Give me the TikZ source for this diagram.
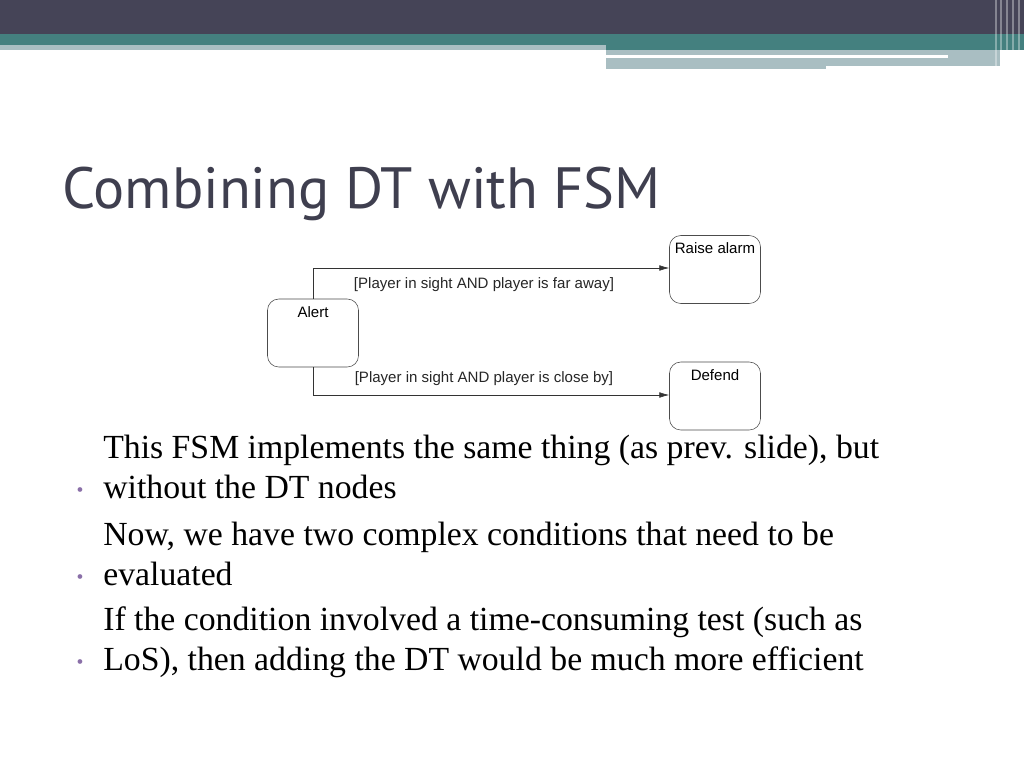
\documentclass[tikz,border=0pt]{standalone}
\usepackage{fontspec}
\setmainfont{Liberation Serif}
\newfontfamily\titlefont{PT Sans}
\newfontfamily\diagfont{Liberation Sans}
\usepackage{tikz}
\usetikzlibrary{positioning,arrows.meta}
\definecolor{barDark}{HTML}{454457}
\definecolor{barTeal}{HTML}{44807F}
\definecolor{barLight}{HTML}{A9BEC2}
\definecolor{titleGray}{HTML}{3F3F4F}
\definecolor{bulletPurple}{HTML}{8A6FA8}
\tikzstyle{statebox} = [draw=black!70, fill=white, rounded corners=8pt,
minimum width=91pt*0.711, minimum height=68pt*0.711]
\tikzstyle{statelbl} = [font=\diagfont\fontsize{10.7}{12}\selectfont]
\tikzstyle{bulletline} = [anchor=base west, inner sep=0pt,
font=\fontsize{24}{28.4}\selectfont, align=left]

\begin{document}
\begin{tikzpicture}[x=0.025cm, y=-0.025cm, >={Latex[length=7pt,width=4pt]}]
		\useasboundingbox (0,0) rectangle (1024,768);
		\fill[white] (0,0) rectangle (1024,768);
		% header bars
		\fill[barDark] (0,0) rectangle (1024,34);
		\fill[barTeal] (0,34) rectangle (1024,50);
		\fill[barLight] (0,45) rectangle (606,50);
		\fill[barLight] (606,50) rectangle (1000,69);
		\fill[white] (606,55) rectangle (948,58);
		\fill[white] (826,66) rectangle (1000,69);
		\foreach \xx in {995,1000,1006,1012,1018} {
			\fill[white, opacity=0.35] (\xx,0) rectangle ++(2,69);
		}
		% title
		\node[anchor=base west, inner sep=0pt, text=titleGray,
		font=\titlefont\fontsize{41.4}{46}\selectfont] (title) at (62,208) {Combining DT with FSM};
		% states
		\node[statebox] (alert) at (313,333) {};
		\node[statelbl, below=2pt of alert.north] (alertlbl) {Alert};
		\node[statebox] (raise) at (715,269.5) {};
		\node[statelbl, below=2pt of raise.north] (raiselbl) {Raise alarm};
		\node[statebox] (defend) at (715,396) {};
		\node[statelbl, below=2pt of defend.north] (defendlbl) {Defend};
		% transitions
		\draw[->, black!80] (alert.north) |- (raise.west |- 0,268)
			node[statelbl, pos=0.74, below=3pt, text=black!85] {[Player in sight AND player is far away]};
		\draw[->, black!80] (alert.south) |- (defend.west |- 0,395)
			node[statelbl, pos=0.74, above=3pt, text=black!85] {[Player in sight AND player is close by]};
		% bullets
		\node[bulletline] (b1) at (103,498) {This FSM implements the same thing (as prev. slide), but\\without the DT nodes};
		\node[bulletline] (b2) at (103,585) {Now, we have two complex conditions that need to be\\evaluated};
		\node[bulletline] (b3) at (103,670) {If the condition involved a time-consuming test (such as\\LoS), then adding the DT would be much more efficient};
		\foreach \b/\yy in {b1/498,b2/585,b3/670} {
			\node[text=bulletPurple, font=\fontsize{14}{14}\selectfont, anchor=base, inner sep=0pt]
			(dot\b) at (80,\yy-2) {\textbullet};
		}
\end{tikzpicture}
\end{document}
